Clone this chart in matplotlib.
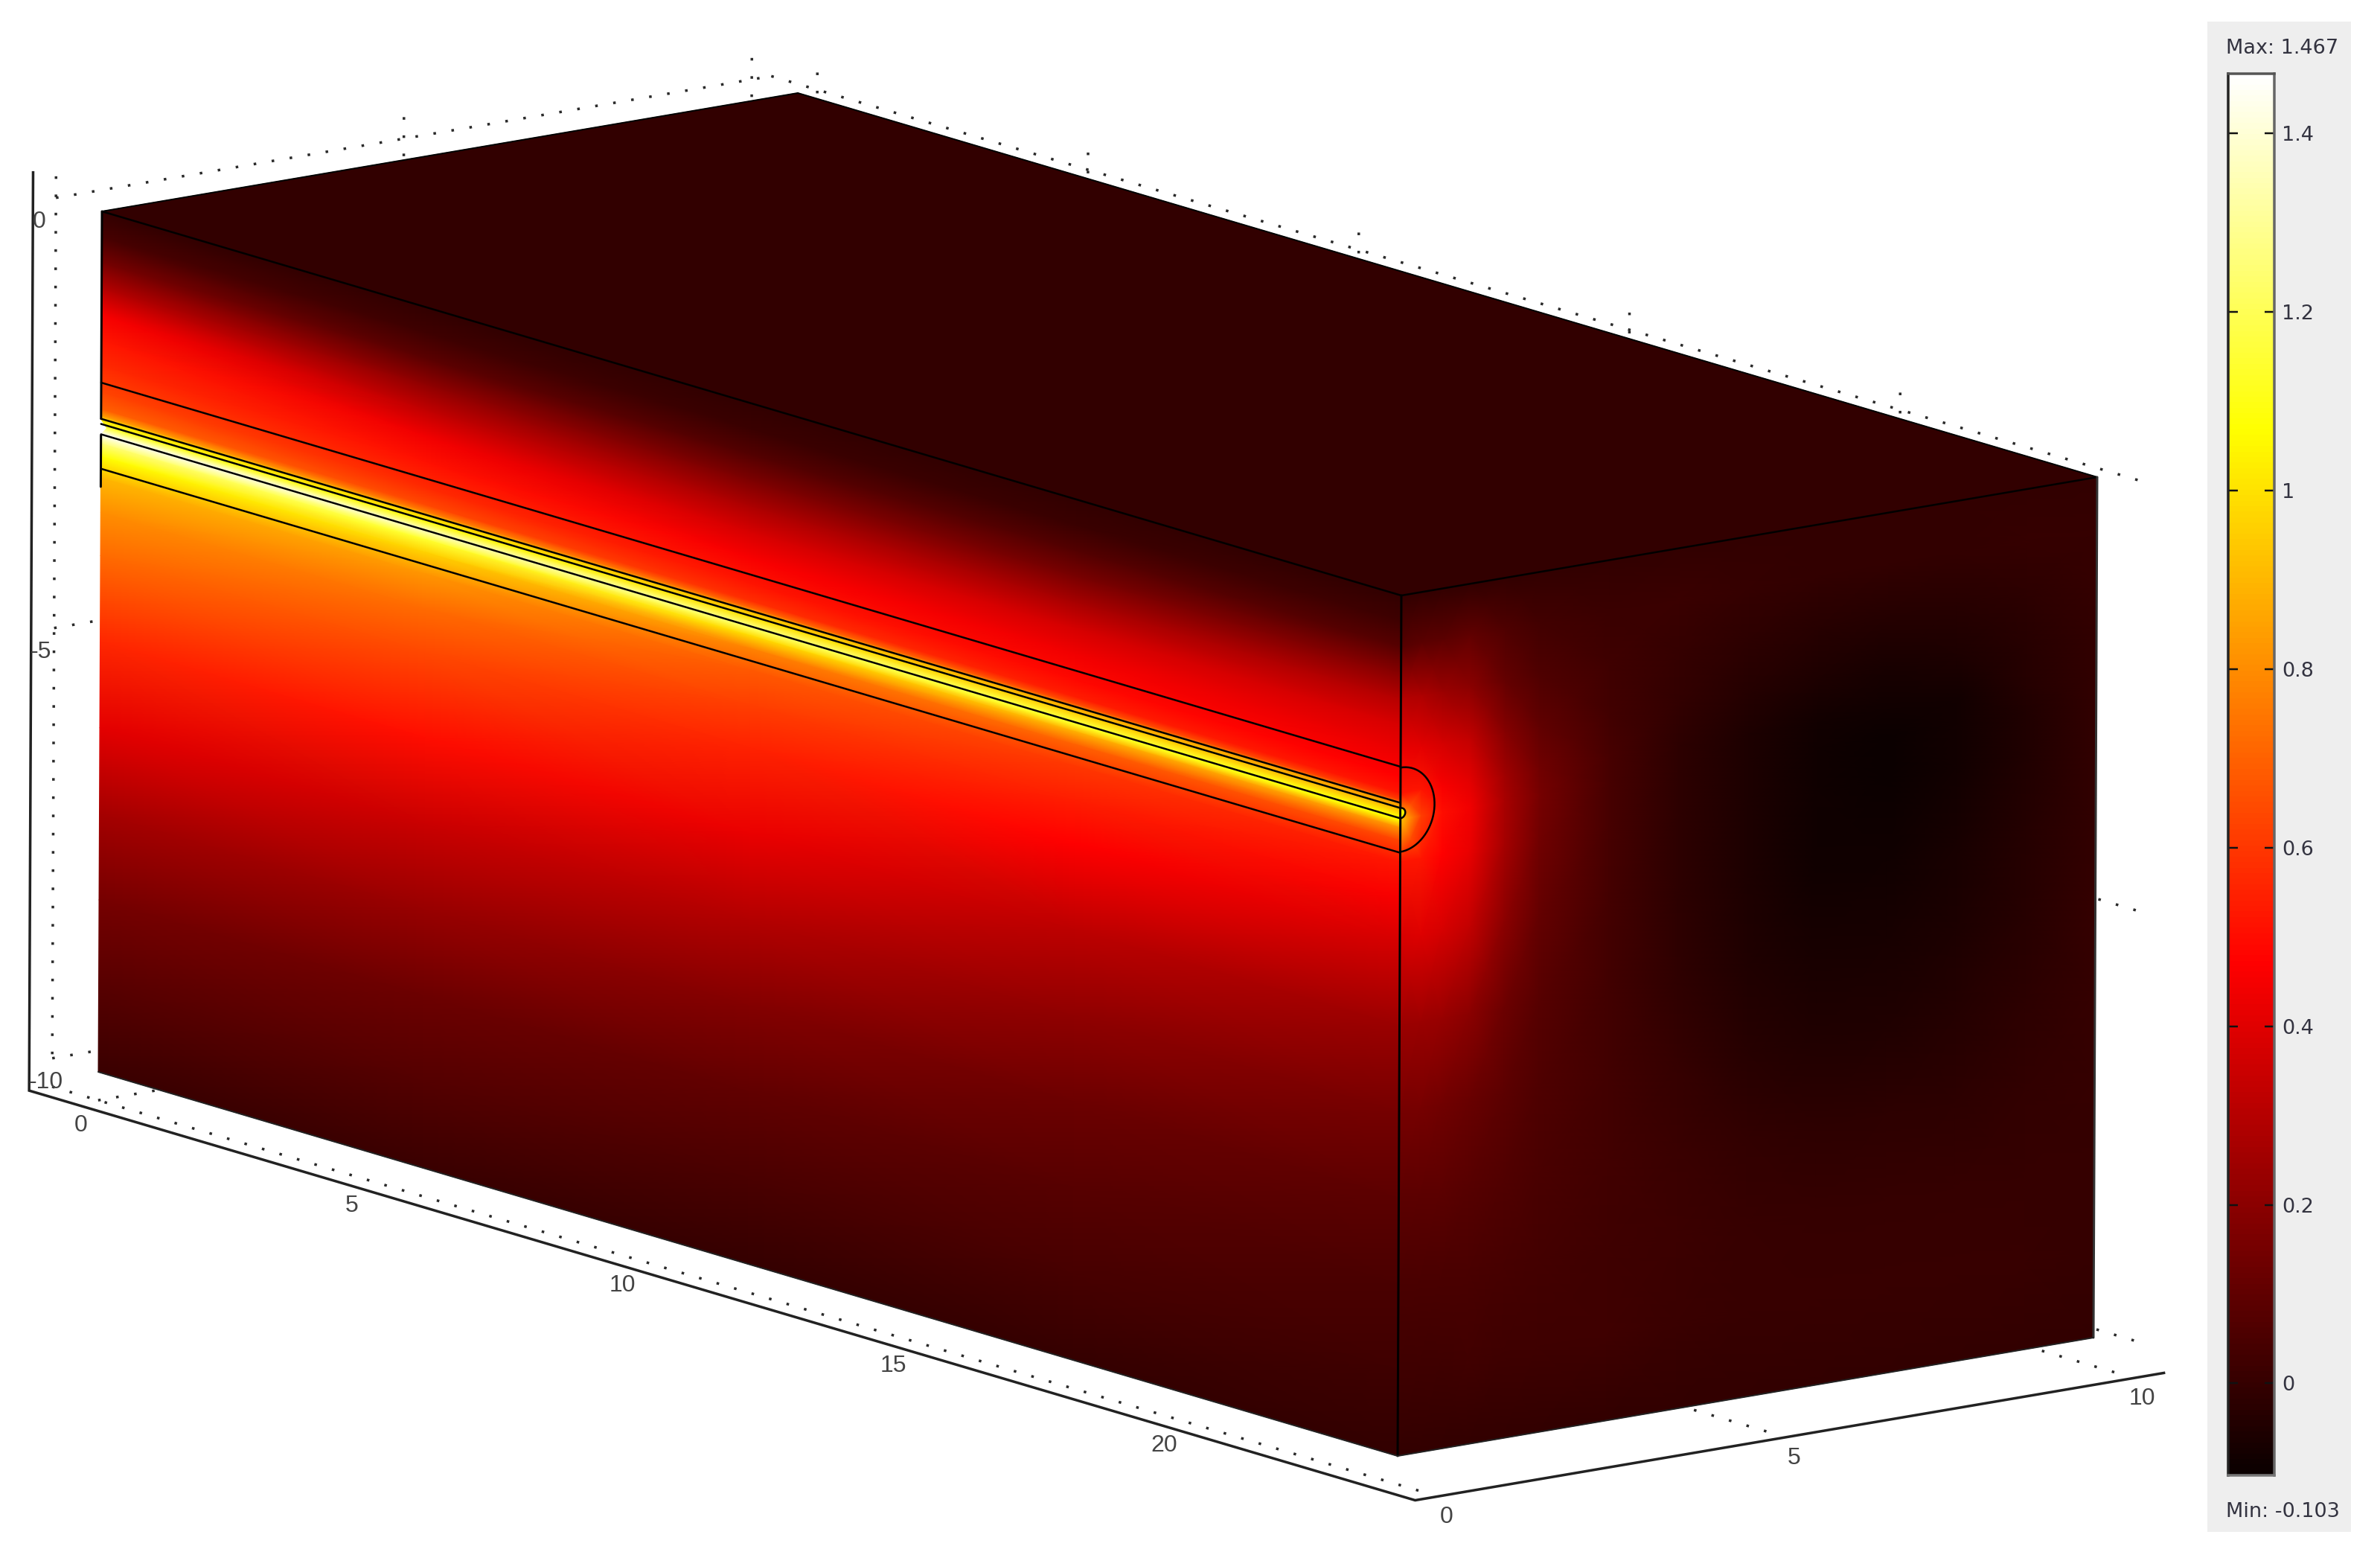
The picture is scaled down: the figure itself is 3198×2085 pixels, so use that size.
import numpy as np
import matplotlib
matplotlib.use('Agg')
import matplotlib.pyplot as plt

# field values, front face (rows = depth below top, cols = x)
front_x = [0, 6, 12, 18, 24]
front_depth = [0, .3, .6, .9, 1.2, 1.5, 1.8, 2.1, 2.3, 2.38, 2.42, 2.48, 2.58, 2.62, 2.7, 2.85, 3.1, 3.5, 4, 5, 6, 7, 8, 9, 10]
front_vals = [
    [-.01, -.01, -.01, -.01, -.01],
    [.04, .02, .01, .01, .02],
    [.15, .09, .07, .07, .08],
    [.30, .21, .17, .16, .19],
    [.45, .33, .28, .27, .30],
    [.52, .44, .38, .37, .38],
    [.57, .51, .46, .44, .43],
    [.63, .57, .52, .49, .47],
    [.70, .64, .58, .54, .52],
    [.85, .78, .72, .66, .62],
    [1.0, .95, .90, .85, .82],
    [1.1, 1.05, 1.0, .95, .90],
    [1.45, 1.35, 1.25, 1.15, 1.07],
    [1.4, 1.32, 1.2, 1.12, 1.05],
    [1.25, 1.14, .98, .88, .82],
    [1.07, .96, .78, .70, .63],
    [.9, .82, .68, .60, .52],
    [.8, .72, .62, .54, .46],
    [.72, .64, .55, .47, .38],
    [.56, .50, .42, .32, .24],
    [.41, .35, .29, .21, .15],
    [.26, .23, .18, .13, .09],
    [.15, .13, .10, .08, .05],
    [.08, .07, .05, .04, .02],
    [.01, .01, .00, .00, -.01],
]

# end face (rows = depth, cols = y)
end_y = [0, .3, .6, 1, 1.5, 2, 3, 4, 5, 6, 7, 8, 9, 10]
end_depth = [0, .6, 1.2, 1.8, 2.3, 2.6, 3.1, 4, 5, 6, 7, 8, 9, 10]
end_vals = [
    [-.01, -.01, -.01, -.01, -.01, -.01, -.01, -.01, -.01, -.01, -.01, -.01, -.01, -.01],
    [.08, .09, .09, .10, .06, .03, .01, .01, 0, -.01, -.01, -.01, 0, 0],
    [.30, .28, .24, .20, .11, .06, .02, 0, -.02, -.03, -.04, -.03, -.02, 0],
    [.43, .41, .37, .33, .19, .10, .03, -.01, -.04, -.06, -.07, -.06, -.03, -.01],
    [.52, .52, .46, .41, .25, .14, .04, -.02, -.06, -.08, -.09, -.08, -.04, -.01],
    [.95, .62, .50, .44, .27, .15, .04, -.02, -.06, -.09, -.10, -.08, -.05, -.01],
    [.52, .52, .47, .42, .26, .14, .04, -.02, -.06, -.09, -.10, -.08, -.05, -.01],
    [.38, .39, .37, .33, .20, .11, .035, -.02, -.06, -.09, -.09, -.07, -.04, -.01],
    [.24, .24, .23, .20, .13, .08, .03, -.015, -.05, -.07, -.07, -.06, -.03, 0],
    [.15, .15, .14, .12, .09, .06, .03, 0, -.03, -.05, -.05, -.04, -.02, 0],
    [.09, .09, .09, .08, .065, .05, .03, .01, -.01, -.02, -.02, -.02, -.01, 0],
    [.05, .05, .05, .05, .04, .035, .025, .015, .005, 0, 0, 0, 0, 0],
    [.02, .02, .025, .03, .025, .02, .02, .01, .005, .005, .005, .005, .005, 0],
    [-.01, -.01, -.01, -.01, -.01, -.01, -.01, -.01, -.01, -.01, -.01, -.01, -.01, -.01],
]

# top face is nearly flat
top_x = [0, 24]
top_y = [0, 10]
top_vals = [[-.01, -.01], [-.01, -.01]]

vmin = -0.103
vmax = 1.467
cbar_ticks = [0, .2, .4, .6, .8, 1, 1.2, 1.4]
cbar_labels = ['0', '0.2', '0.4', '0.6', '0.8', '1', '1.2', '1.4']
x_ticks = [0, 5, 10, 15, 20]
y_ticks = [0, 5, 10]
z_ticks = [0, -5, -10]
wire_lines = [1.99, 2.41, 2.47, 2.59, 2.99]

PX = 0.72  # points per pixel at dpi 100


def proj(x, y, d):
    # box corner (x=0, y=0, top) sits at pixel 137,284; d is depth below the top
    x, y, d = np.asarray(x, float), np.asarray(y, float), np.asarray(d, float)
    return (137 + 72.75 * x + 93.5 * y - 0.5 * d,
            284 + 21.5 * x - 15.9 * y + 115.6 * d)


fig = plt.figure(figsize=(31.98, 20.85), dpi=100)
ax = fig.add_axes([0, 0, 1, 1])
ax.set_xlim(0, 3198)
ax.set_ylim(2085, 0)
ax.axis('off')

# grid frame
xl, xh = -0.85, 24.5
yl, yh = 0, 10.28
dotted = dict(color='#2a2a2a', lw=3.5 * PX, linestyle=(0, (1, 6.0)), zorder=1, dash_capstyle='butt')


def dots(p0, p1):
    sx, sy = proj(*zip(p0, p1))
    ax.plot(sx, sy, **dotted)


for d in [0, 5, 10]:
    dots((xl, yl, d), (xl, yh, d))
    dots((xl, yh, d), (xh, yh, d))
for yv in y_ticks:
    dots((xl, yv, -.25), (xl, yv, 10.1))
    dots((xl, yv, 10.33), (xh, yv, 10.33))
for xv in x_ticks:
    dots((xv, yh, -.2), (xv, yh, 10.3))
dots((0, 0, 10.33), (0, 10, 10.33))

# axis lines
sx, sy = proj([-.85, -.85, 24.75, 24.75], [-.33, -.33, -.33, 10.43], [-.34, 10.33, 10.33, 10.33])
ax.plot(sx, sy, color='#222222', lw=3.5 * PX, zorder=2, solid_joinstyle='miter')

# faces
fx, fd = np.meshgrid(front_x, front_depth)
sx, sy = proj(fx, 0 * fx, fd)
ax.pcolormesh(sx, sy, np.array(front_vals), shading='gouraud', cmap='hot', vmin=vmin, vmax=vmax, zorder=3)

ey, ed = np.meshgrid(end_y, end_depth)
sx, sy = proj(24 + 0 * ey, ey, ed)
ax.pcolormesh(sx, sy, np.array(end_vals), shading='gouraud', cmap='hot', vmin=vmin, vmax=vmax, zorder=3)

tx, ty = np.meshgrid(top_x, top_y)
sx, sy = proj(tx, ty, 0 * tx)
ax.pcolormesh(sx, sy, np.array(top_vals), shading='gouraud', cmap='hot', vmin=vmin, vmax=vmax, zorder=3)

# notch where the wire starts, left edge
sx, sy = proj([-.02, .1, -.02], [0, 0, 0], [2.41, 2.5, 2.6])
ax.fill(sx, sy, color='white', lw=0, zorder=4)


def edge(p0, p1, lw=2.5, color='black'):
    sx, sy = proj(*zip(p0, p1))
    ax.plot(sx, sy, color=color, lw=lw * PX, zorder=5, solid_capstyle='round')


edge((0, 0, 0), (24, 0, 0))
edge((24, 0, 0), (24, 10, 0))
edge((24, 0, 0), (24, 0, 10), lw=3)
edge((0, 10, 0), (24, 10, 0), lw=2)
edge((0, 0, 0), (0, 10, 0), lw=2)
edge((0, 0, 0), (0, 0, 2.41), lw=3)
edge((0, 0, 2.6), (0, 0, 3.2), lw=3)
edge((24, 10, 0), (24, 10, 10), lw=3, color='#333333')
edge((0, 0, 10), (24, 0, 10), lw=2, color='#222222')
edge((24, 0, 10), (24, 10, 10), lw=2, color='#222222')

# wire lines along the length
for d in wire_lines:
    edge((0, 0, d), (24, 0, d))

# outer round cap on the end face
cap_angle = np.linspace(-90, 90, 40)
sx, sy = proj(24 + 0 * cap_angle, .49 * np.cos(np.radians(cap_angle)), 2.49 + .49 * np.sin(np.radians(cap_angle)))
ax.plot(sx, sy, color='black', lw=2.5 * PX, zorder=5)
# small wire tip
sx, sy = proj(24 + 0 * cap_angle, .07 * np.cos(np.radians(cap_angle)), 2.53 + .06 * np.sin(np.radians(cap_angle)))
ax.fill(sx, sy, facecolor='#f5f000', edgecolor='black', lw=2.5 * PX, zorder=5)

# tick labels
tick_font = dict(family='Liberation Sans', fontsize=23, color='#444444', zorder=6)
for xv in x_ticks:
    sx, sy = proj(xv, -.33, 10.33)
    ax.text(sx + 8, sy + 29, str(xv), ha='center', va='center', **tick_font)
for yv in y_ticks:
    sx, sy = proj(24.75, yv, 10.33)
    ax.text(sx + 11, sy + 28, str(yv), ha='center', va='center', **tick_font)
for zv in z_ticks:
    sx, sy = proj(-.85, -.33, -zv)
    ax.text(sx - 1, sy + 27, str(zv), ha='left', va='center', **tick_font)

# colour bar panel
ax.add_patch(plt.Rectangle((2966, 29), 193, 2029, facecolor='#eeeeee', lw=0, zorder=0))
cbar_font = dict(family='DejaVu Sans', fontsize=19.5, color='#333340')
ax.text(2991, 65, 'Max: 1.467', ha='left', va='center', **cbar_font)
ax.text(2991, 2031, 'Min: -0.103', ha='left', va='center', **cbar_font)

cax = fig.add_axes([2994 / 3198, 1 - 1982 / 2085, 62 / 3198, (1982 - 99) / 2085])
levels = np.linspace(vmin, vmax, 512).reshape(-1, 1)
cax.imshow(levels, origin='lower', aspect='auto', cmap='hot', vmin=vmin, vmax=vmax,
           extent=[0, 1, vmin, vmax])
cax.set_xticks([])
cax.set_yticks(cbar_ticks)
cax.set_yticklabels(cbar_labels, **cbar_font)
cax.tick_params(axis='y', direction='in', left=True, right=True, labelleft=False, labelright=True,
                length=13 * PX, width=2.5 * PX, color='#111111', pad=10 * PX)
for side, col in zip(['left', 'right', 'top', 'bottom'], ['#222222', '#666666', '#555555', '#777777']):
    cax.spines[side].set_color(col)
    cax.spines[side].set_linewidth(3.5 * PX)

plt.savefig('out.png', dpi=100)
